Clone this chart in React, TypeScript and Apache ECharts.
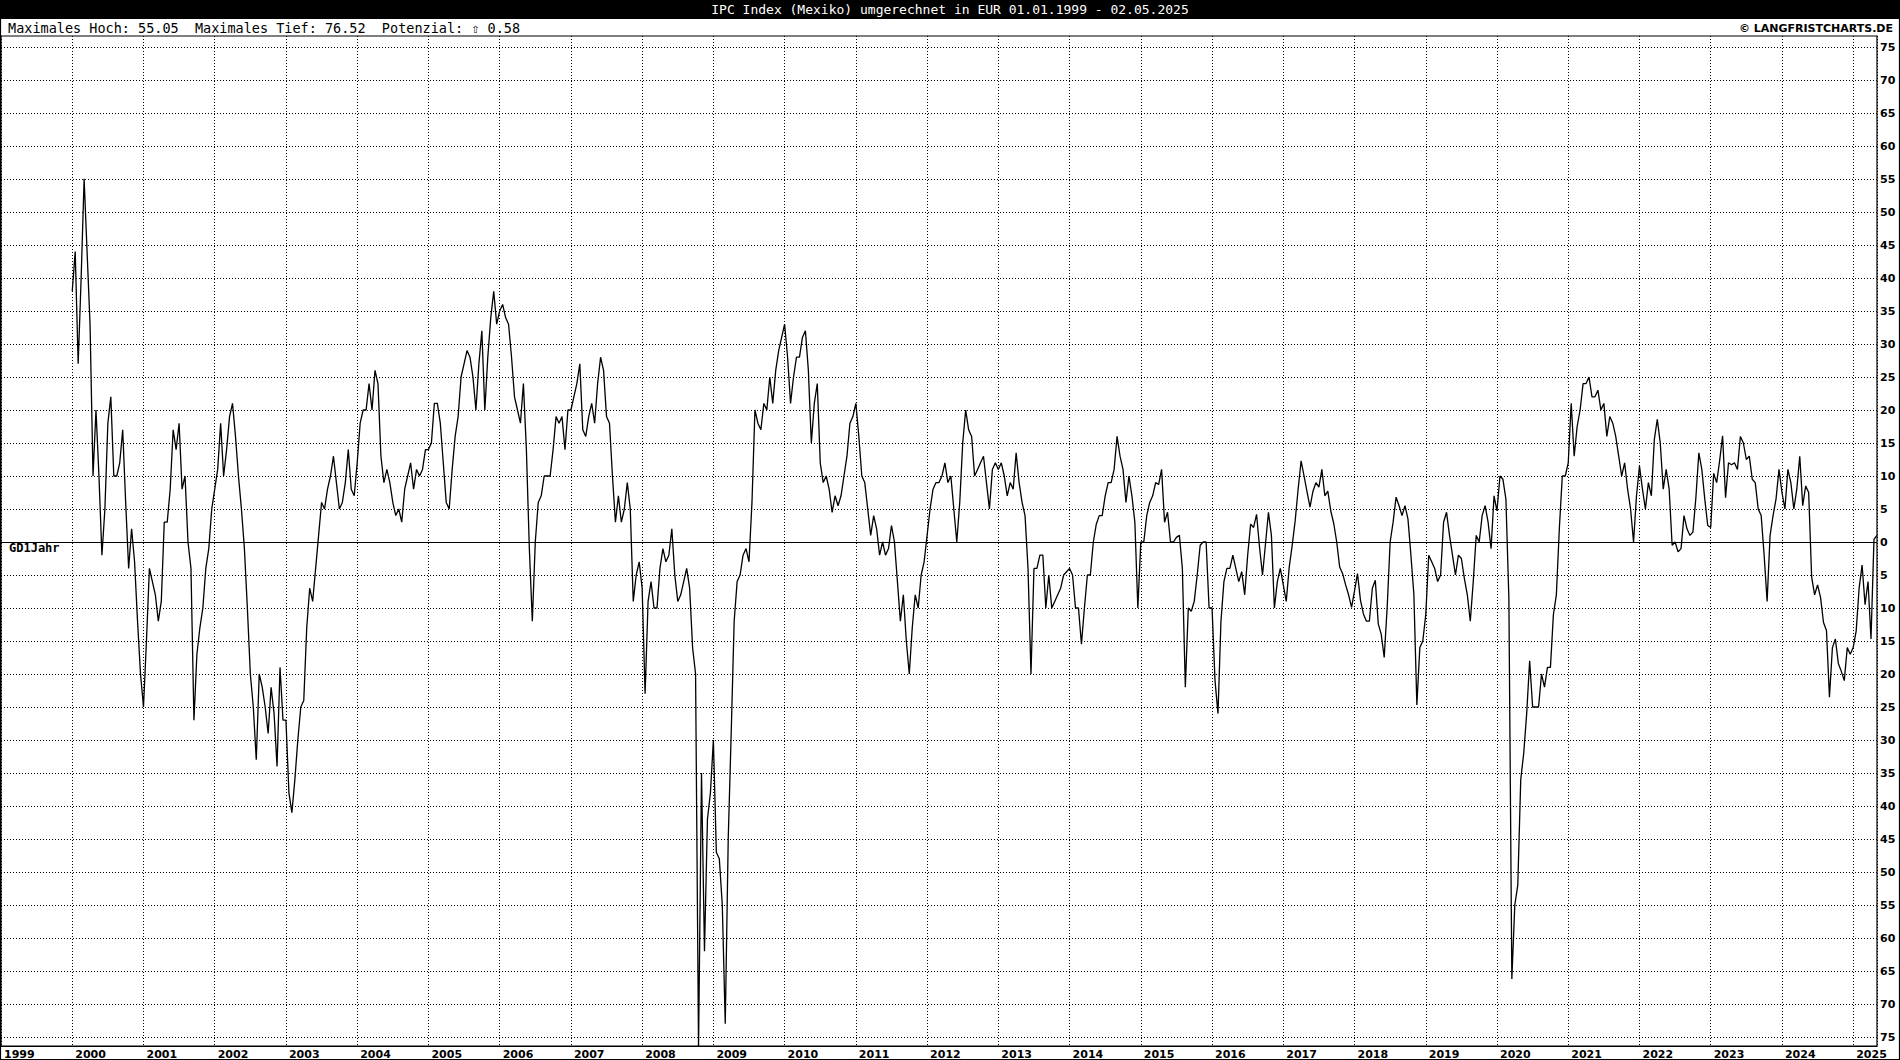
import React, { useEffect, useRef } from "react";
import * as echarts from "echarts";

// Semi-monthly readings (24 per year), percent distance from 1-year moving average
const y2000 = [38, 44, 27, 40, 55.05, 44, 33, 10, 20, 10, -2, 5, 18, 22, 10, 10, 12, 17, 6, -4, 2, -3, -12, -20];
const y2001 = [-25, -15, -4, -6, -8, -12, -9, 3, 3, 8, 17, 14, 18, 8, 10, 0, -4, -27, -17, -13, -10, -4, -1, 5];
const y2002 = [8, 11, 18, 10, 14, 19, 21, 16, 10, 5, -1, -10, -20, -25, -33, -20, -22, -25, -29, -22, -26, -34, -19, -27];
const y2003 = [-27, -38, -41, -36, -30, -25, -24, -13, -7, -9, -4, 1, 6, 5, 8, 10, 13, 9, 5, 6, 9, 14, 8, 7];
const y2004 = [12, 18, 20, 20, 24, 20, 26, 24, 13, 9, 11, 9, 6, 4, 5, 3, 8, 10, 12, 8, 11, 10, 11, 14];
const y2005 = [14, 15, 21, 21, 18, 12, 6, 5, 11, 16, 19, 25, 27, 29, 28, 25, 20, 27, 32, 20, 28, 34, 38, 33];
const y2006 = [35, 36, 34, 33, 28, 22, 20, 18, 24, 14, -1, -12, 0, 6, 7, 10, 10, 10, 14, 19, 18, 19, 14, 20];
const y2007 = [20, 22, 24, 27, 17, 16, 19, 21, 18, 24, 28, 26, 19, 18, 10, 3, 7, 3, 5, 9, 5, -9, -5, -3];
const y2008 = [-7, -23, -9, -6, -10, -10, -4, -1, -3, -2, 2, -5, -9, -8, -6, -4, -7, -16, -20, -76.52, -35, -62, -42, -38];
const y2009 = [-30, -47, -48, -55, -73, -45, -29, -12, -6, -5, -2, -1, -3, 6, 20, 18, 17, 21, 20, 25, 21, 26, 29, 31];
const y2010 = [33, 28, 21, 25, 28, 28, 31, 32, 26, 15, 21, 24, 12, 9, 10, 8, 4.5, 7, 5.5, 7, 10, 13, 18, 19];
const y2011 = [21, 16, 10, 9, 5, 1, 4, 2, -2, 0, -2, -1, 2.5, 0, -6, -12, -8, -15, -20, -13, -8, -10, -5, -3];
const y2012 = [1, 5, 8, 9, 9, 10, 12, 9, 10, 5, 0, 6, 15, 20, 17, 16, 10, 11, 12, 13, 9, 5, 11, 12];
const y2013 = [11, 12, 10, 7, 9, 8, 13.5, 9, 6, 4, -4, -20, -4, -4, -2, -2, -10, -5, -10, -9, -8, -7, -5, -4.5];
const y2014 = [-4, -5, -10, -10, -15.5, -10, -5, -5, 0, 2.7, 4, 4, 7, 9, 9, 11, 16, 13, 11, 6, 10, 7, 3, -10];
const y2015 = [0, 0, 4, 6, 7, 9, 8.7, 11, 3, 4.5, 0, 0, 0.7, 1, -4, -22, -10, -10.5, -9, -5, -0.5, 0, 0, -10];
const y2016 = [-10, -21, -26, -12, -6, -4, -4, -2, -4, -6, -4.5, -8, -2, 2.7, 2.2, 4.2, -0.8, -5, -0.3, 4.5, 1, -10, -6, -4];
const y2017 = [-6.5, -9, -3.8, -0.5, 3.2, 8, 12.3, 10, 7.6, 5.3, 7.7, 9, 8.3, 11, 7, 7.7, 4.7, 2.8, 0, -3.8, -4.8, -6.5, -8, -9.9];
const y2018 = [-7.4, -4.8, -8.8, -10.9, -12, -12, -7, -5.8, -12.4, -14, -17.5, -9.9, 0, 3, 6.8, 5.5, 4, 5.5, 3.5, -2, -8, -24.7, -16, -15];
const y2019 = [-11, -2, -3, -4, -6, -5, 3, 4.5, 1, -2, -5, -2, -2.5, -5.5, -8, -12, -6, 1, 0, 4, 5.5, 3, -1, 7];
const y2020 = [4.7, 10, 9.5, 6.5, -8.4, -66.2, -55, -52, -36, -32, -26, -18, -25, -25, -25, -20, -22, -19, -19, -11, -8, 2, 10, 10];
const y2021 = [12, 21, 13, 17.5, 20, 24, 24, 25, 22, 22, 23, 20, 21, 16, 19, 18, 16, 13, 10, 12, 8, 5, 0, 7];
const y2022 = [11.5, 8, 5, 9, 7, 15.5, 18.6, 15, 8, 11, 8, -0.5, 0, -1.5, -1, 4, 2, 1, 1.5, 6.7, 13.5, 11, 6.5, 2.5];
const y2023 = [2.2, 10.4, 9, 12.3, 16.1, 6.7, 12, 11.7, 12, 11, 16, 15, 12.5, 13, 9.5, 9, 5, 4, -2, -9, 1, 4, 6.5, 11];
const y2024 = [7.5, 5, 11, 9, 5, 8, 13, 5.5, 8.5, 7.5, -5.3, -8, -6.5, -8.4, -12.2, -13.4, -23.5, -16, -14.7, -18.4, -19.6, -21, -16, -17];
const y2025 = [-16, -13.5, -7, -3.5, -9.5, -6, -14.7, 0.4, 1];

const startYears = [2000, 2001, 2002, 2003, 2004, 2005, 2006, 2007, 2008, 2009, 2010, 2011, 2012, 2013, 2014, 2015, 2016, 2017, 2018, 2019, 2020, 2021, 2022, 2023, 2024, 2025];
const yearSeries = [y2000, y2001, y2002, y2003, y2004, y2005, y2006, y2007, y2008, y2009, y2010, y2011, y2012, y2013, y2014, y2015, y2016, y2017, y2018, y2019, y2020, y2021, y2022, y2023, y2024, y2025];

const TITLE = "IPC Index (Mexiko) umgerechnet in EUR 01.01.1999 - 02.05.2025";
const INFO = "Maximales Hoch: 55.05  Maximales Tief: 76.52  Potenzial: \u21E7 0.58";
const COPY = "\u00A9 LANGFRISTCHARTS.DE";
const AVG_LABEL = "GD1Jahr";

const X_MIN = 1999;
const X_MAX = 2025 + 122 / 365;

export default function App() {
  const ref = useRef<HTMLDivElement>(null);
  useEffect(() => {
    if (!ref.current) return;
    const chart = echarts.init(ref.current, null, { renderer: "svg" });
    const data: number[][] = [];
    yearSeries.forEach((arr, k) => {
      arr.forEach((v, i) => data.push([startYears[k] + i / 24, v]));
    });
    const dotted = { type: [1, 2] as any, color: "#000", width: 1 };
    chart.setOption({
      animation: false,
      backgroundColor: "#fff",
      grid: [
        { left: 1, right: 23, top: 47, bottom: 23 },
        { left: 1, right: 23, top: 36, bottom: 14, show: true, borderColor: "#000", borderWidth: 1.2, backgroundColor: "transparent" },
      ],
      xAxis: [
        { gridIndex: 0, type: "value", min: X_MIN, max: X_MAX, show: false },
        {
          gridIndex: 1,
          type: "value",
          min: X_MIN,
          max: X_MAX,
          interval: 1,
          axisLine: { show: true, lineStyle: { color: "#000", width: 1.2 } },
          axisTick: { show: false },
          axisLabel: {
            formatter: (v: number) => String(Math.round(v)),
            align: "left",
            margin: 3,
            padding: [0, 0, 0, 3],
            color: "#000",
            fontFamily: "DejaVu Sans",
            fontWeight: "bold",
            fontSize: 11,
            showMaxLabel: false,
          },
          splitLine: { show: true, lineStyle: dotted },
        },
      ],
      yAxis: [
        {
          gridIndex: 0,
          type: "value",
          position: "right",
          min: -75,
          max: 75,
          interval: 5,
          axisLine: { show: false },
          axisTick: { show: false },
          axisLabel: {
            formatter: (v: number) => String(Math.abs(v)),
            align: "left",
            margin: 3,
            color: "#000",
            fontFamily: "DejaVu Sans",
            fontWeight: "bold",
            fontSize: 11,
          },
          splitLine: { show: true, lineStyle: dotted },
        },
        { gridIndex: 1, type: "value", min: 0, max: 1, show: false },
      ],
      series: [
        {
          type: "line",
          xAxisIndex: 0,
          yAxisIndex: 0,
          data,
          showSymbol: false,
          symbol: "none",
          clip: false,
          lineStyle: { color: "#000", width: 1.3 },
          itemStyle: { color: "#000" },
          markLine: {
            silent: true,
            symbol: "none",
            label: { show: false },
            lineStyle: { color: "#000", width: 1, type: "solid" },
            data: [{ yAxis: 0 }],
          },
        },
      ],
      graphic: [
        { type: "rect", shape: { x: 0, y: 0, width: 1900, height: 18 }, style: { fill: "#000" }, silent: true },
        {
          type: "text",
          x: 950,
          y: 9,
          style: { text: TITLE, fill: "#fff", font: "13px 'DejaVu Sans Mono'", textAlign: "center", textVerticalAlign: "middle" },
        },
        {
          type: "text",
          x: 8,
          y: 28,
          style: { text: INFO, fill: "#000", font: "13.5px 'DejaVu Sans Mono'", textAlign: "left", textVerticalAlign: "middle" },
        },
        {
          type: "text",
          x: 1893,
          y: 28,
          style: { text: COPY, fill: "#000", font: "bold 11px 'DejaVu Sans'", textAlign: "right", textVerticalAlign: "middle" },
        },
        {
          type: "rect",
          shape: { x: 0.5, y: 18.5, width: 1899, height: 1041 },
          style: { fill: "none", stroke: "#000", lineWidth: 1.2 },
          silent: true,
        },
        {
          type: "text",
          x: 9,
          y: 548,
          style: { text: AVG_LABEL, fill: "#000", font: "bold 12px 'DejaVu Sans Mono'", textAlign: "left", textVerticalAlign: "middle" },
        },
      ],
    });
    return () => chart.dispose();
  }, []);
  return <div ref={ref} style={{ position: "fixed", left: 0, top: 0, width: 1900, height: 1060 }} />;
}
